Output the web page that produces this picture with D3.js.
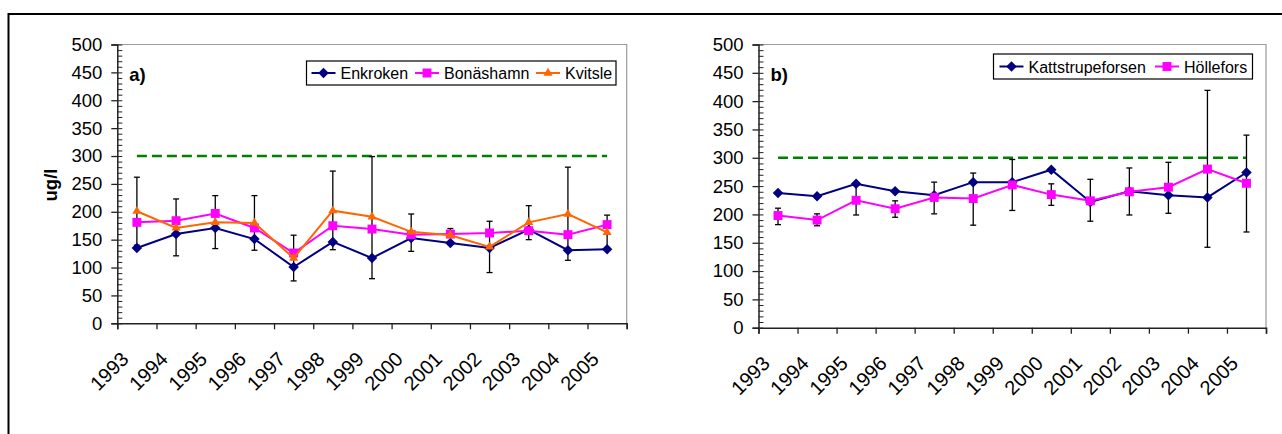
<!DOCTYPE html>
<html>
<head>
<meta charset="utf-8">
<script src="https://cdn.jsdelivr.net/npm/d3@7"></script>
<style>
  html, body { margin: 0; padding: 0; background: #fff; }
  svg { display: block; font-family: Arial, "Liberation Sans", Helvetica, sans-serif; }
</style>
</head>
<body>
<svg id="chart" width="1282" height="434"></svg>
<script>
// Sampling years shared by both panels
const years = ["1993","1994","1995","1996","1997","1998","1999","2000","2001","2002","2003","2004","2005"];
const yTicks = [0, 50, 100, 150, 200, 250, 300, 350, 400, 450, 500];
const guideValue = 300;

// Panel a) coastal stations
const enkroken  = [135, 160, 171, 151, 101, 146, 117, 153, 144, 135, 168, 131, 133];
const bonashamn = [181, 184, 197, 171, 126, 175, 169, 159, 160, 162, 166, 159, 177];
const kvitsle   = [201, 171, 181, 180, 117, 202, 191, 164, 158, 137, 181, 196, 163];
const kvitsleHigh = [262, 223, 229, 229, 158, 273, 299, 196, 170, 183, 211, 280, 194];
const kvitsleLow  = [140, 121, 134, 131,  76, 132,  80, 129, 156,  91, 150, 113, 132];

// Panel b) river stations
const kattstrupeforsen = [238, 232, 254, 241, 234, 257, 257, 279, 222, 241, 234, 230, 274];
const hollefors        = [198, 190, 225, 210, 230, 228, 252, 235, 224, 240, 248, 280, 255];
const holleforsHigh = [211, 201, 251, 224, 257, 273, 297, 254, 262, 282, 292, 419, 340];
const holleforsLow  = [182, 180, 199, 195, 201, 181, 207, 216, 188, 199, 202, 142, 169];

const svg = d3.select("#chart");

// Outer frame (left and top edges)
svg.append("path")
  .attr("d", "M8.5,434 L8.5,14 L1282,14")
  .attr("fill", "none").attr("stroke", "#000").attr("stroke-width", 2);

const markers = {
  diamond: d3.symbol().type(d3.symbolDiamond2 || d3.symbolDiamond).size(70),
  square:  d3.symbol().type(d3.symbolSquare).size(80),
  triangle: d3.symbol().type(d3.symbolTriangle).size(36)
};

function drawPanel(cfg) {
  const g = svg.append("g");
  const x = d3.scaleBand().domain(years).range([cfg.x0, cfg.x1]).padding(0);
  const xb = d3.scaleLinear().domain([0, years.length]).range([cfg.x0, cfg.x1]);
  const y = d3.scaleLinear().domain([0, 500]).range([cfg.yb, cfg.yt]);
  const cx = d => x(d) + x.bandwidth() / 2;

  // plot-area border (top and right)
  g.append("path")
    .attr("d", `M${cfg.x0},${cfg.yt} L${cfg.x1},${cfg.yt} L${cfg.x1},${cfg.yb}`)
    .attr("fill", "none").attr("stroke", "#9a9a9a").attr("stroke-width", 1.2);

  // y axis: major ticks crossing, minor ticks inside
  const ya = g.append("g").attr("transform", `translate(${cfg.x0},0)`)
    .call(d3.axisLeft(y).tickValues(yTicks).tickSize(6).tickPadding(9));
  ya.select(".domain").attr("stroke", "#222").attr("stroke-width", 1.5);
  ya.selectAll(".tick line").attr("stroke", "#222").attr("stroke-width", 1.3);
  ya.selectAll(".tick text").attr("font-size", 18.5).attr("fill", "#000")
    .attr("font-family", "Arial, 'Liberation Sans', sans-serif");
  const ym = g.append("g").attr("transform", `translate(${cfg.x0},0)`)
    .call(d3.axisRight(y).tickValues(d3.range(0, 501, 10)).tickSize(5).tickFormat(""));
  ym.select(".domain").remove();
  ym.selectAll(".tick line").attr("stroke", "#222").attr("stroke-width", 1);

  // x axis with ticks at category boundaries
  const xa = g.append("g").attr("transform", `translate(0,${cfg.yb})`)
    .call(d3.axisBottom(xb).tickValues(d3.range(0, years.length + 1)).tickSize(6).tickFormat(""));
  xa.select(".domain").attr("stroke", "#222").attr("stroke-width", 1.5);
  xa.selectAll(".tick line").attr("stroke", "#222").attr("stroke-width", 1.3);

  // rotated year labels
  g.append("g").selectAll("text").data(years).join("text")
    .attr("transform", d => `translate(${cx(d) - 7},${cfg.yb + 37}) rotate(-45)`)
    .attr("text-anchor", "end")
    .attr("font-size", 20)
    .attr("fill", "#000")
    .text(d => d);

  // panel letter
  g.append("text").attr("x", cfg.x0 + 12).attr("y", 81)
    .attr("font-size", 18.5).attr("font-weight", "bold").text(cfg.letter);

  // guide line at 300
  g.append("path")
    .datum(years.map(() => guideValue))
    .attr("d", d3.line().x((d, i) => cx(years[i])).y(d => y(d)))
    .attr("fill", "none").attr("stroke", "#008000").attr("stroke-width", 2.5)
    .attr("stroke-dasharray", "10,5");

  // error bars
  const eb = g.append("g").attr("stroke", "#000").attr("stroke-width", 1.3);
  years.forEach((yr, i) => {
    const xc = cx(yr);
    const lo = y(cfg.err.low[i]), hi = y(cfg.err.high[i]);
    eb.append("line").attr("x1", xc).attr("x2", xc).attr("y1", lo).attr("y2", hi);
    eb.append("line").attr("x1", xc - 3).attr("x2", xc + 3).attr("y1", lo).attr("y2", lo);
    eb.append("line").attr("x1", xc - 3).attr("x2", xc + 3).attr("y1", hi).attr("y2", hi);
  });

  // series lines and markers
  cfg.series.forEach(s => {
    g.append("path")
      .datum(s.values)
      .attr("d", d3.line().x((d, i) => cx(years[i])).y(d => y(d)))
      .attr("fill", "none").attr("stroke", s.color).attr("stroke-width", 2);
    g.append("g").selectAll("path").data(s.values).join("path")
      .attr("transform", (d, i) => `translate(${cx(years[i])},${y(d)})`)
      .attr("d", markers[s.marker]())
      .attr("fill", s.color);
  });

  // legend
  const lg = g.append("g");
  lg.append("rect").attr("x", cfg.legend.x).attr("y", cfg.legend.y)
    .attr("width", cfg.legend.w).attr("height", cfg.legend.h)
    .attr("fill", "#fff").attr("stroke", "#000").attr("stroke-width", 1.2);
  cfg.series.forEach((s, k) => {
    const lx = cfg.legend.items[k];
    const ly = cfg.legend.y + cfg.legend.h / 2;
    lg.append("line").attr("x1", lx).attr("x2", lx + 24).attr("y1", ly).attr("y2", ly)
      .attr("stroke", s.color).attr("stroke-width", 2);
    lg.append("path").attr("transform", `translate(${lx + 12},${ly})`)
      .attr("d", markers[s.marker]()).attr("fill", s.color);
    lg.append("text").attr("x", lx + 29).attr("y", ly + 6)
      .attr("font-size", 16).attr("fill", "#000").text(s.name);
  });

  return { x, y };
}

drawPanel({
  x0: 117.3, x1: 626.7, yt: 44.5, yb: 323.3, letter: "a)",
  err: { low: kvitsleLow, high: kvitsleHigh },
  series: [
    { name: "Enkroken", values: enkroken, color: "#000080", marker: "diamond" },
    { name: "Bonäshamn", values: bonashamn, color: "#FF00FF", marker: "square" },
    { name: "Kvitsle", values: kvitsle, color: "#FF6600", marker: "triangle" }
  ],
  legend: { x: 306.5, y: 61, w: 309.5, h: 24, items: [311.5, 415, 536] }
});

drawPanel({
  x0: 758.5, x1: 1266, yt: 44.5, yb: 327.7, letter: "b)",
  err: { low: holleforsLow, high: holleforsHigh },
  series: [
    { name: "Kattstrupeforsen", values: kattstrupeforsen, color: "#000080", marker: "diamond" },
    { name: "Höllefors", values: hollefors, color: "#FF00FF", marker: "square" }
  ],
  legend: { x: 993.5, y: 54, w: 259, h: 25, items: [999.5, 1155] }
});

// y-axis title (panel a)
svg.append("text")
  .attr("transform", "translate(57,185) rotate(-90)")
  .attr("text-anchor", "middle")
  .attr("font-size", 18.5).attr("font-weight", "bold")
  .text("ug/l");
</script>
</body>
</html>
